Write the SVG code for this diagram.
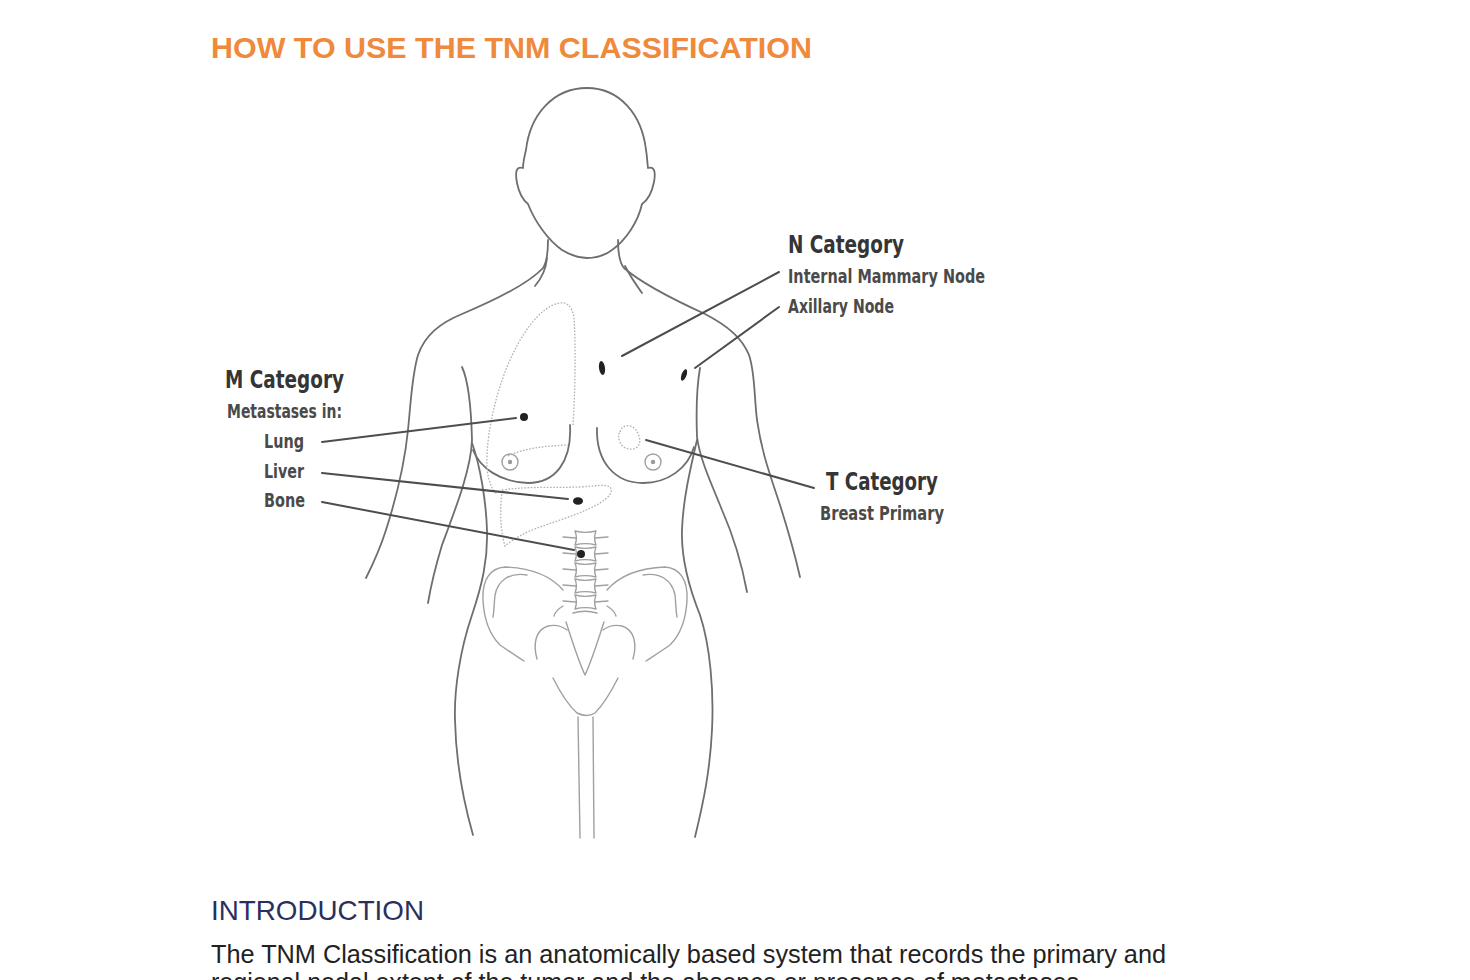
<svg xmlns="http://www.w3.org/2000/svg" width="1470" height="980" viewBox="0 0 1470 980">
<style>
.title{font-family:"Liberation Sans",Arial,sans-serif;font-weight:bold;font-size:30px;fill:#EF893B}
.h2{font-family:"Liberation Sans",Arial,sans-serif;font-size:28px;fill:#2C2F5E}
.body{font-family:"Liberation Sans",Arial,sans-serif;font-size:25px;fill:#222}
.lh{font-family:"DejaVu Sans Condensed","Liberation Sans",sans-serif;font-weight:bold;font-size:25px;fill:#353535}
.ls{font-family:"DejaVu Sans Condensed","Liberation Sans",sans-serif;font-weight:bold;font-size:19px;fill:#4a4a4a}
.outline{fill:none;stroke:#6e6e6e;stroke-width:1.8;stroke-linecap:round;stroke-linejoin:round}
.bone{fill:none;stroke:#a0a0a0;stroke-width:1.4;stroke-linecap:round;stroke-linejoin:round}
.organ{fill:none;stroke:#b0b0b0;stroke-width:1.3;stroke-dasharray:1.6 1.6}
.lead{fill:none;stroke:#4d4d4d;stroke-width:2;stroke-linecap:round}
.met{fill:#222}
</style>
<defs>
<g id="hipL">
<path class="bone" d="M 563,590 C 550,575 530,568 505,567 C 490,568 482,580 483,600 C 484,620 490,635 500,645 C 510,652 518,657 524,661"/>
<path class="bone" d="M 527,575 C 510,572 498,580 495,595 C 494,605 494,612 493,617"/>
<path class="bone" d="M 537,659 C 533,645 535,630 548,626 C 557,624 563,627 567,630"/>
<path class="bone" d="M 563,606 C 558,609 555,612 554,616"/>
</g>
<g id="vert">
<path d="M 575,0 C 582,2 588,2 596,0 C 594,5 594,9 596,14 C 588,12 582,12 575,14 C 577,9 577,5 575,0 Z"/>
<path d="M 563,6 L 576,7 M 595,7 L 608,6"/>
</g>
</defs>

<g id="title"><text class="title" x="211" y="58" textLength="601" lengthAdjust="spacingAndGlyphs">HOW TO USE THE TNM CLASSIFICATION</text></g>

<g id="figure">
<path class="outline" d="M 587,88 C 553,88 530,115 526,150 C 524,158 523,163 523,168 C 516,166 515,172 517,183 C 519,193 523,200 528,204 C 535,222 548,240 562,250 C 572,256 580,258 587,258 C 596,258 604,256 612,250 C 626,240 638,222 642,204 C 648,200 652,192 654,182 C 656,171 654,166 648,168 C 647,160 647,155 646,150 C 642,115 620,88 587,88 Z"/>
<path class="outline" d="M 548,240 C 548,252 547,262 543,268 C 530,282 500,298 462,314 C 440,323 425,335 418,355 C 412,375 411,400 408,430 C 404,470 394,505 386,530 C 379,552 371,568 366,578"/>
<path class="outline" d="M 547,258 C 546,270 540,280 535,286"/>
<path class="outline" d="M 618,240 C 618,252 619,262 624,268 C 640,282 670,298 705,314 C 728,326 742,338 749,355 C 755,372 754,395 757,420 C 762,455 772,480 780,505 C 788,530 795,555 800,577"/>
<path class="outline" d="M 625,266 C 630,276 637,286 642,293"/>
<path class="outline" d="M 462,367 C 468,380 471,400 472,440 C 471,470 455,510 442,545 C 436,565 431,585 428,603"/>
<path class="outline" d="M 472,443 C 480,465 486,500 487,530 C 488,560 482,585 472,615 C 460,650 454,690 455,720 C 456,765 463,800 473,835"/>
<path class="outline" d="M 700,368 C 697,385 696,410 697,437 C 700,460 712,485 722,510 C 733,535 742,565 747,592"/>
<path class="outline" d="M 697,440 C 690,470 683,500 682,530 C 681,560 690,590 700,615 C 710,645 714,690 712,730 C 710,770 704,800 695,837"/>
<path class="outline" d="M 473,450 C 480,468 500,482 528,483 C 555,483 572,462 570,425"/>
<path class="outline" d="M 597,428 C 596,462 615,483 643,483 C 668,483 688,468 694,447"/>
<circle class="bone" cx="510" cy="462" r="8" stroke="#888"/>
<circle cx="510" cy="462" r="2.2" fill="#999"/>
<circle class="bone" cx="653" cy="462" r="8" stroke="#888"/>
<circle cx="653" cy="462" r="2.2" fill="#999"/>
<path class="organ" d="M 573,425 C 575,395 576,345 574,318 C 572,305 566,302 560,303 C 540,306 520,335 507,367 C 495,397 488,430 487,455 C 486,475 490,488 497,494"/>
<path class="organ" d="M 508,456 C 525,448 545,446 568,445"/>
<path class="organ" d="M 502,490 C 530,486 555,488 580,487 C 595,486 605,484 610,487 C 614,492 608,498 600,503 C 585,512 560,520 540,527 C 525,532 512,540 505,546 C 500,530 500,510 502,490 Z"/>
<path class="organ" d="M 620,432 C 622,424 632,424 636,430 C 640,436 642,444 636,448 C 630,451 622,448 620,442 C 618,438 618,435 620,432 Z"/>
<g class="bone">
<use href="#vert" y="531"/>
<use href="#vert" y="547"/>
<use href="#vert" y="563"/>
<use href="#vert" y="579"/>
<use href="#vert" y="595"/>
</g>
<path class="bone" d="M 573,613 C 580,611 590,611 597,613"/>
<path class="bone" d="M 566,622 C 572,640 578,660 585,675 C 592,660 598,640 604,622"/>
<use href="#hipL"/>
<use href="#hipL" transform="translate(1170,0) scale(-1,1)"/>
<path class="bone" d="M 553,678 C 560,692 568,705 577,713 C 583,716 590,716 595,713 C 603,705 611,692 618,678"/>
<path class="bone" d="M 578,717 L 580,838"/>
<path class="bone" d="M 593,717 L 594,838"/>
<ellipse class="met" cx="602" cy="368" rx="3" ry="7" transform="rotate(-8 602 368)"/>
<ellipse class="met" cx="684" cy="375" rx="2.5" ry="6" transform="rotate(20 684 375)"/>
<circle class="met" cx="524" cy="417" r="4"/>
<ellipse class="met" cx="578" cy="501" rx="5" ry="3.8"/>
<circle class="met" cx="581" cy="554" r="4"/>
</g>

<g id="connectors">
<line class="lead" x1="622" y1="356" x2="779" y2="272"/>
<line class="lead" x1="695" y1="368" x2="779" y2="307"/>
<line class="lead" x1="322" y1="442" x2="516" y2="418"/>
<line class="lead" x1="322" y1="473" x2="568" y2="499"/>
<line class="lead" x1="322" y1="502" x2="574" y2="550"/>
<line class="lead" x1="646" y1="440" x2="814" y2="488"/>
</g>

<g id="n-category">
<text class="lh" x="788" y="253" textLength="116" lengthAdjust="spacingAndGlyphs">N Category</text>
<text class="ls" x="788" y="283" textLength="197" lengthAdjust="spacingAndGlyphs">Internal Mammary Node</text>
<text class="ls" x="788" y="313" textLength="106" lengthAdjust="spacingAndGlyphs">Axillary Node</text>
</g>
<g id="m-category">
<text class="lh" x="225" y="388" textLength="119" lengthAdjust="spacingAndGlyphs">M Category</text>
<text class="ls" x="227" y="418" textLength="115" lengthAdjust="spacingAndGlyphs">Metastases in:</text>
<text class="ls" x="264" y="448" textLength="40" lengthAdjust="spacingAndGlyphs">Lung</text>
<text class="ls" x="264" y="478" textLength="40" lengthAdjust="spacingAndGlyphs">Liver</text>
<text class="ls" x="264" y="507" textLength="41" lengthAdjust="spacingAndGlyphs">Bone</text>
</g>
<g id="t-category">
<text class="lh" x="826" y="490" textLength="112" lengthAdjust="spacingAndGlyphs">T Category</text>
<text class="ls" x="820" y="520" textLength="124" lengthAdjust="spacingAndGlyphs">Breast Primary</text>
</g>

<g id="introduction">
<text class="h2" x="211" y="920" textLength="213" lengthAdjust="spacingAndGlyphs">INTRODUCTION</text>
<text class="body" x="211" y="963" textLength="955" lengthAdjust="spacingAndGlyphs">The TNM Classification is an anatomically based system that records the primary and</text>
<text class="body" x="211" y="991" textLength="875" lengthAdjust="spacingAndGlyphs">regional nodal extent of the tumor and the absence or presence of metastases.</text>
</g>
</svg>
